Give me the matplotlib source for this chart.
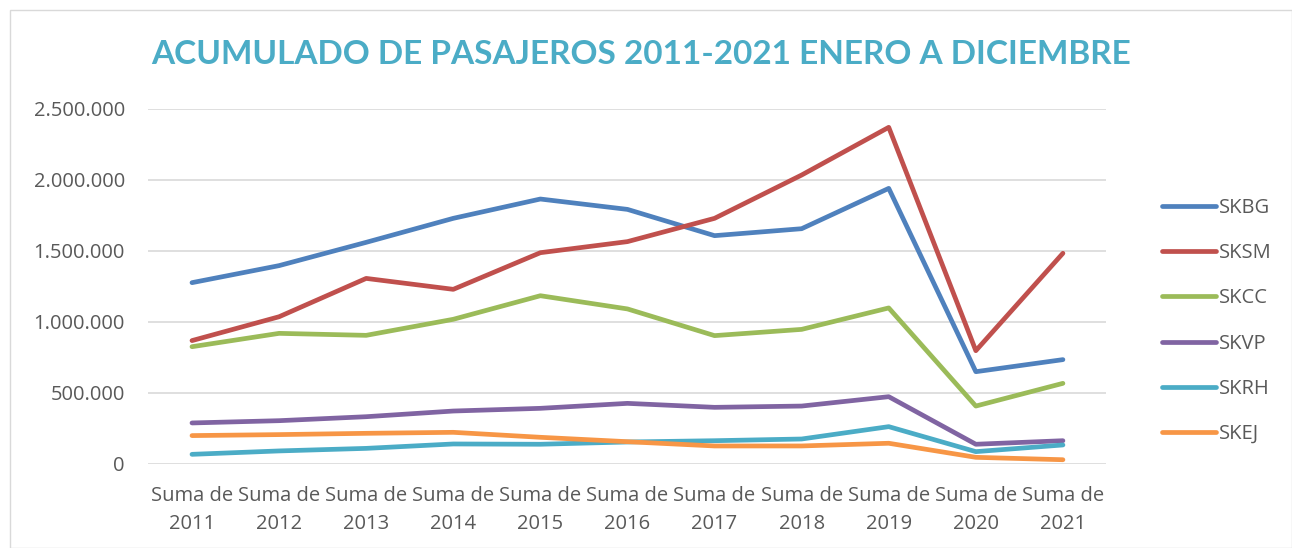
import numpy as np
import matplotlib
matplotlib.use("Agg")
import matplotlib.pyplot as plt
from matplotlib.ticker import FuncFormatter
from matplotlib.patches import Rectangle

# data
years = ["2011", "2012", "2013", "2014", "2015", "2016", "2017", "2018", "2019", "2020", "2021"]
skbg = [1277000, 1397000, 1561000, 1730000, 1866000, 1793000, 1608000, 1657000, 1941000, 650000, 735000]
sksm = [869000, 1037000, 1307000, 1230000, 1488000, 1566000, 1730000, 2035000, 2371000, 798000, 1484000]
skcc = [826000, 920000, 906000, 1019000, 1185000, 1092000, 904000, 948000, 1099000, 408000, 568000]
skvp = [289000, 305000, 333000, 373000, 392000, 427000, 399000, 408000, 474000, 139000, 164000]
skrh = [68000, 92000, 110000, 141000, 139000, 155000, 164000, 176000, 263000, 87000, 134000]
skej = [200000, 207000, 216000, 223000, 188000, 157000, 127000, 127000, 146000, 47000, 30000]

series = [("SKBG", skbg, "#4F81BD"),
          ("SKSM", sksm, "#C0504D"),
          ("SKCC", skcc, "#9BBB59"),
          ("SKVP", skvp, "#8064A2"),
          ("SKRH", skrh, "#4BACC6"),
          ("SKEJ", skej, "#F79646")]

plt.rcParams['font.family'] = ['Open Sans', 'DejaVu Sans']

fig = plt.figure(figsize=(12.92, 5.48), dpi=100)
fig.patches.append(Rectangle((10/1292, 0), 1 - 10/1292, 1 - 10/548, transform=fig.transFigure,
                             fill=False, edgecolor="#D9D9D9", linewidth=1))

ax = fig.add_axes([0.1149, 0.1533, 0.7415, 0.6478])
x = np.arange(len(years))
for name, vals, col in series:
    ax.plot(x, vals, color=col, linewidth=3.4, solid_capstyle="round", solid_joinstyle="round", label=name)

ax.set_xlim(-0.5, len(years) - 0.5)
ax.set_ylim(0, 2500000)
ax.set_yticks(np.arange(0, 2500001, 500000))
ax.yaxis.set_major_formatter(FuncFormatter(lambda v, p: f"{int(v):,}".replace(",", ".")))
ax.set_xticks(x)
ax.set_xticklabels(["Suma de\n" + y for y in years], linespacing=1.55)
ax.tick_params(axis="both", length=0, labelsize=14.5, colors="#595959")
ax.tick_params(axis="y", pad=17)
ax.tick_params(axis="x", pad=16)
ax.grid(axis="y", color="#D9D9D9", linewidth=1.2)
ax.set_axisbelow(True)
for s in ax.spines.values():
    s.set_visible(False)

fig.text(0.496, 0.9, "ACUMULADO DE PASAJEROS 2011-2021 ENERO A DICIEMBRE",
         ha="center", va="center", fontsize=24, fontweight="bold", color="#4BACC6",
         family=['Lato', 'DejaVu Sans'])

leg = ax.legend(loc="upper left", bbox_to_anchor=(1.039, 0.80), frameon=False,
                fontsize=14.5, labelspacing=1.25, handlelength=2.7, handletextpad=0.15,
                labelcolor="#595959")

fig.savefig("out.png", dpi=100)
